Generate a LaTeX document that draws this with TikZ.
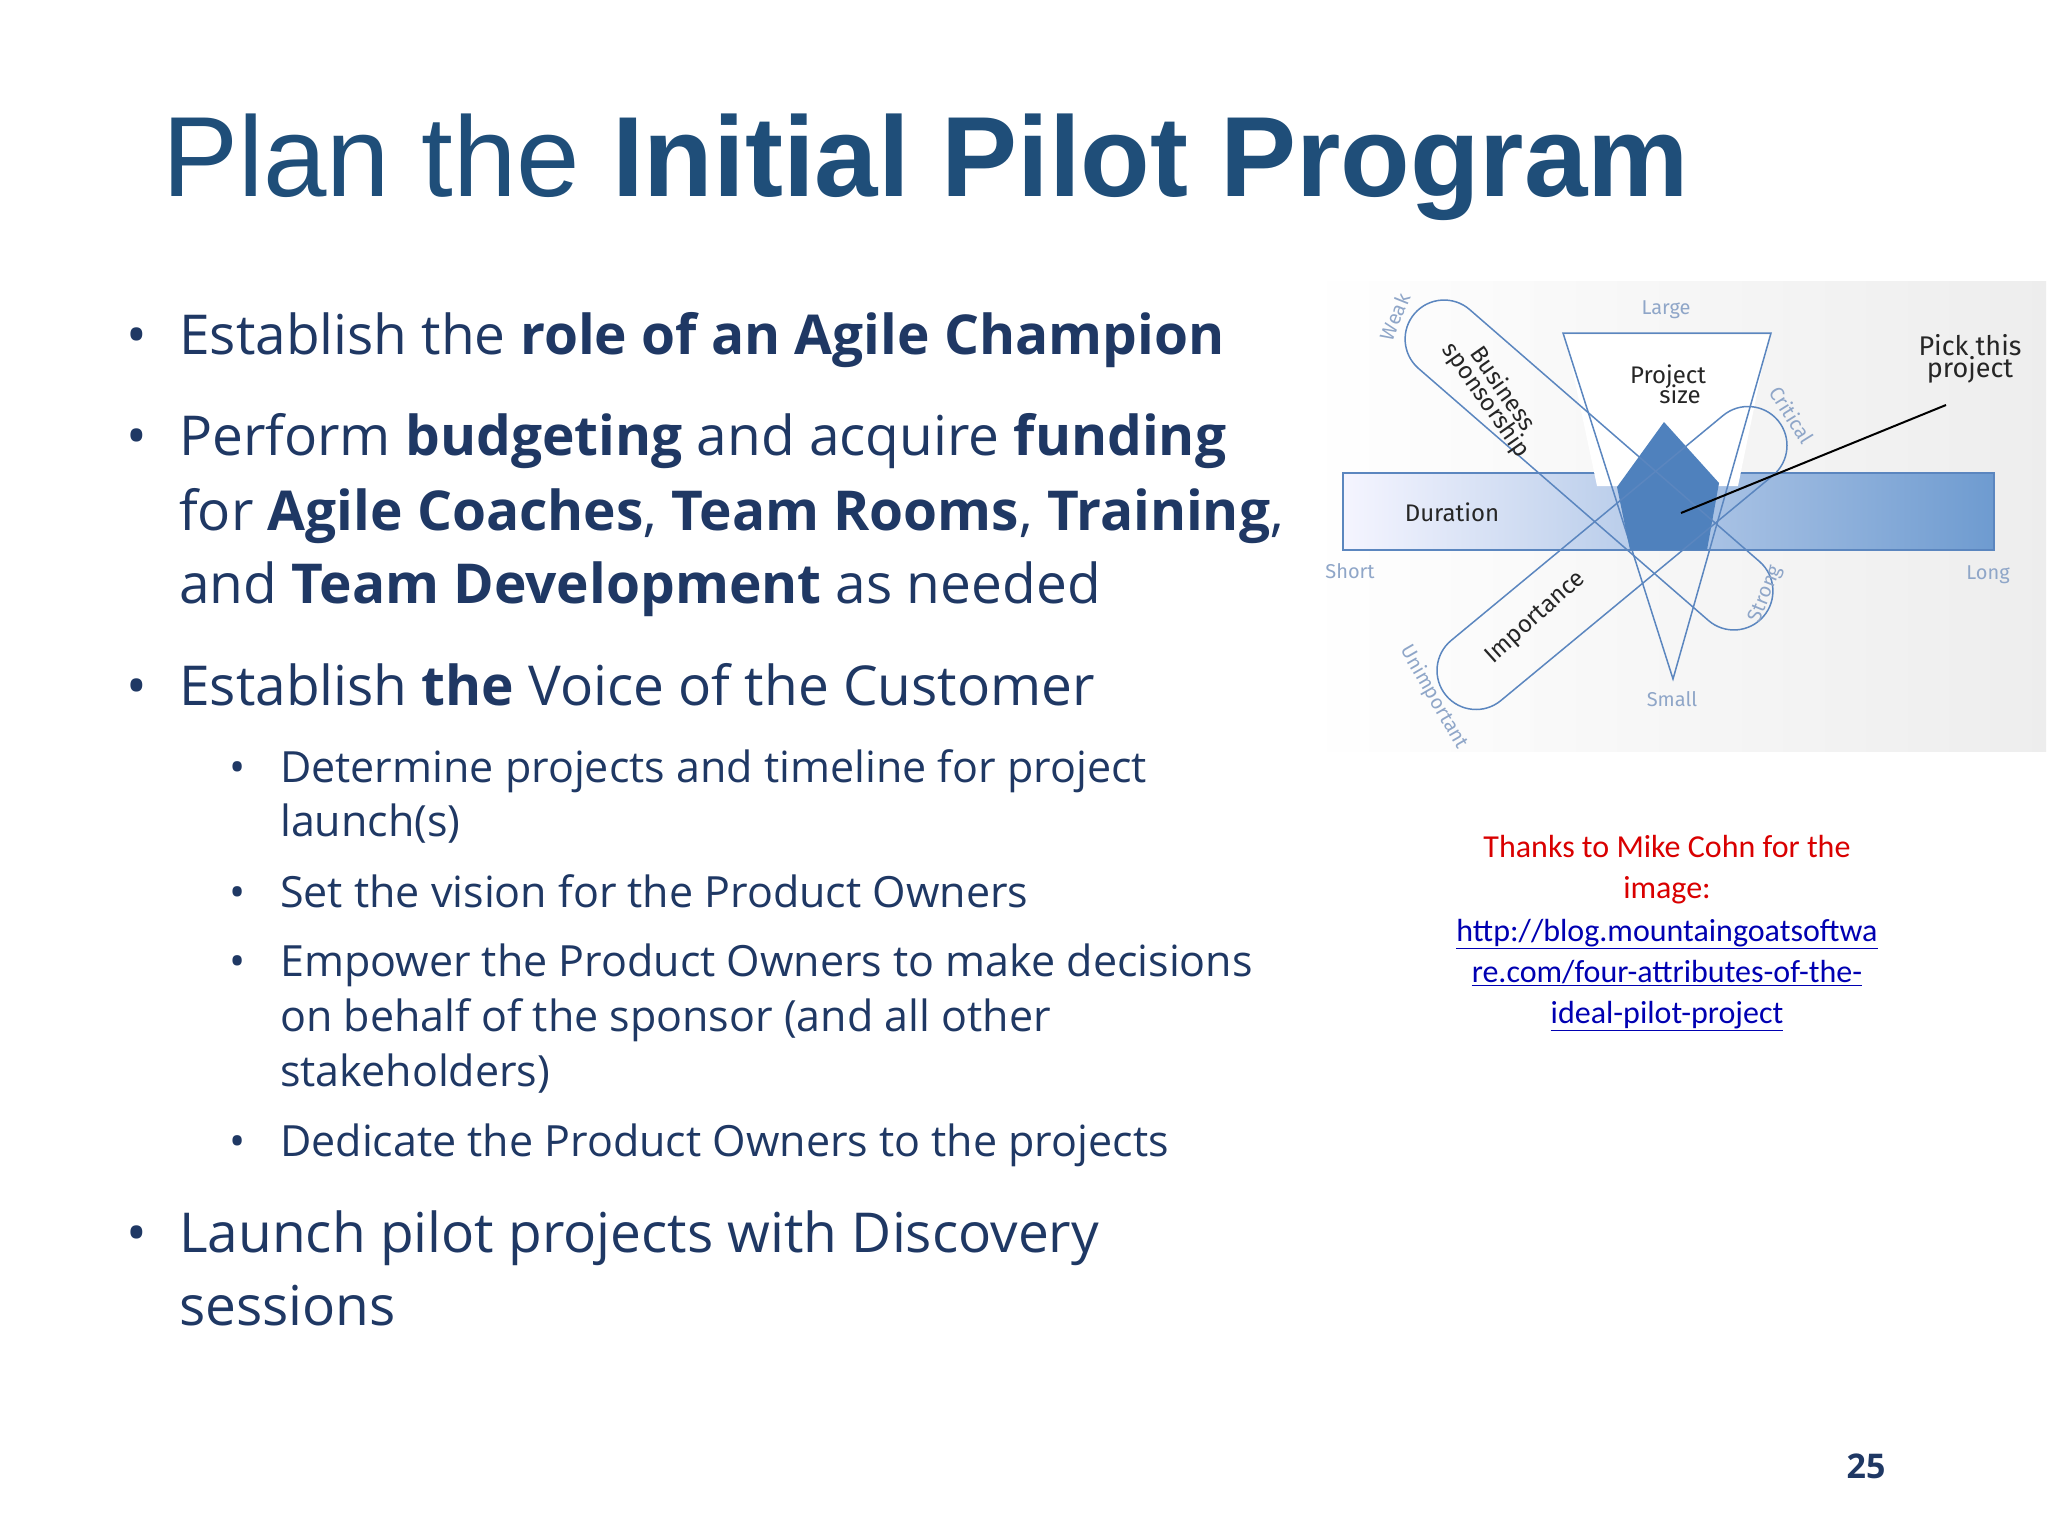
\documentclass[tikz,border=0pt]{standalone}
\usepackage{fontspec}
\setmainfont{Open Sans}
\newfontfamily\titlefont{Liberation Sans}
\newfontfamily\credfont{Carlito}
\newfontfamily\handfont{Fira Sans}
\definecolor{tblue}{HTML}{1F4E79}
\definecolor{txt}{HTML}{1F3864}
\definecolor{dblue}{HTML}{5B86BF}
\definecolor{lblue}{HTML}{8FA6C8}
\definecolor{fillb}{HTML}{4F81BD}
\definecolor{barb}{HTML}{6E9BD0}
\begin{document}
\begin{tikzpicture}[x=1pt,y=-1pt,
  main/.style={anchor=base west,inner sep=0,text=txt,font=\fontsize{55}{74}\selectfont},
  sub/.style={anchor=base west,inner sep=0,text=txt,font=\fontsize{43}{55}\selectfont},
  dot/.style={anchor=base,inner sep=0,text=txt},
  lab/.style={text=lblue,font=\handfont\fontsize{20}{22}\selectfont,inner sep=0},
  hw/.style={text=black!85,font=\handfont\fontsize{24}{26}\selectfont,inner sep=0,align=center},
  pill/.style={draw=dblue,line width=1.5pt,rounded corners=39pt,minimum height=78pt}]
\useasboundingbox (0,0) rectangle (2048,1536);
\fill[white] (0,0) rectangle (2048,1536);
% title
\node[anchor=base west,inner sep=0,text=tblue,font=\titlefont\fontsize{114}{120}\selectfont] (title) at (162,196) {Plan the \textbf{Initial Pilot Program}};
% bullets
\node[dot,font=\fontsize{55}{74}\selectfont] (b1) at (137,354) {•};
\node[main] (t1) at (179,354) {Establish the \textbf{role of an Agile Champion}};
\node[dot,font=\fontsize{55}{74}\selectfont] (b2) at (137,455) {•};
\node[main] (t2a) at (179,455) {Perform \textbf{budgeting} and acquire \textbf{funding}};
\node[main] (t2b) at (179,530) {for \textbf{Agile Coaches}, \textbf{Team Rooms}, \textbf{Training},};
\node[main] (t2c) at (179,603) {and \textbf{Team Development} as needed};
\node[dot,font=\fontsize{55}{74}\selectfont] (b3) at (137,705) {•};
\node[main] (t3) at (179,705) {Establish \textbf{the} Voice of the Customer};
\node[dot,font=\fontsize{43}{55}\selectfont] (s1) at (238,782) {•};
\node[sub] (u1a) at (280,782) {Determine projects and timeline for project};
\node[sub] (u1b) at (280,836) {launch(s)};
\node[dot,font=\fontsize{43}{55}\selectfont] (s2) at (238,907) {•};
\node[sub] (u2) at (280,907) {Set the vision for the Product Owners};
\node[dot,font=\fontsize{43}{55}\selectfont] (s3) at (238,976) {•};
\node[sub] (u3a) at (280,976) {Empower the Product Owners to make decisions};
\node[sub] (u3b) at (280,1031) {on behalf of the sponsor (and all other};
\node[sub] (u3c) at (280,1086) {stakeholders)};
\node[dot,font=\fontsize{43}{55}\selectfont] (s4) at (238,1156) {•};
\node[sub] (u4) at (280,1156) {Dedicate the Product Owners to the projects};
\node[dot,font=\fontsize{55}{74}\selectfont] (b4) at (137,1252) {•};
\node[main] (t4a) at (179,1252) {Launch pilot projects with Discovery};
\node[main] (t4b) at (179,1325) {sessions};
% diagram background
\shade[left color=white,right color=black!7] (1306,281) rectangle (2046,751);
% duration bar
\shade[left color=blue!4!white,middle color=dblue!50,right color=barb] (1343,473) rectangle (1994,550);
\draw[dblue,line width=1.5pt] (1343,473) rectangle (1994,550);
\node[hw] (dur) at (1452,512) {Duration};
% triangle
\fill[white] (1565,335) -- (1769,335) -- (1738,486) -- (1597,486) -- cycle;
\draw[dblue,line width=1.5pt] (1563,333) -- (1771,333) -- (1673,679) -- cycle;
% pentagon
\fill[fillb] (1664,422) -- (1719,483) -- (1707,550) -- (1630,550) -- (1617,487) -- cycle;
% pills
\node[pill,minimum width=462pt,rotate=-41] (bs) at (1589,465) {};
\node[pill,minimum width=431pt,rotate=39.6] (imp) at (1612,558) {};
\node[hw,rotate=-55] (bst) at (1494,395) {Business\\[-6pt]sponsorship};
\node[hw,rotate=42] (impt) at (1536,618) {Importance};
\node[hw] (ps) at (1668,384) {Project\\[-6pt]\hspace*{1em}size};
% labels
\node[lab] (large) at (1666,310) {Large};
\node[lab] (small) at (1672,699) {Small};
\node[lab] (short) at (1350,571) {Short};
\node[lab] (longt) at (1988,575) {Long};
\node[lab,rotate=68] (weak) at (1395,317) {Weak};
\node[lab,rotate=-58] (crit) at (1792,415) {Critical};
\node[lab,rotate=68] (strong) at (1766,594) {Strong};
\node[lab,rotate=-60] (unimp) at (1434,697) {Unimportant};
\node[hw,font=\handfont\fontsize{27}{28}\selectfont] (pick) at (1970,359) {Pick this\\[-6pt]project};
\coordinate (pe) at (1681,513);
\draw[black,line width=2pt] (1946,405) -- (pe);
% credit
\node[text=red!85!black,font=\credfont\fontsize{32}{41}\selectfont,align=center,inner sep=0] (cr) at (1667,870) {Thanks to Mike Cohn for the\\image:};
\node[text=blue!70!black,font=\credfont\fontsize{32}{41}\selectfont,align=center,inner sep=0] (url) at (1667,975) {\underline{http://blog.mountaingoatsoftwa}\\\underline{re.com/four-attributes-of-the-}\\\underline{ideal-pilot-project}};
\node[text=txt,font=\bfseries\fontsize{34}{36}\selectfont,inner sep=0] (pg) at (1866,1466) {25};
\end{tikzpicture}
\end{document}
